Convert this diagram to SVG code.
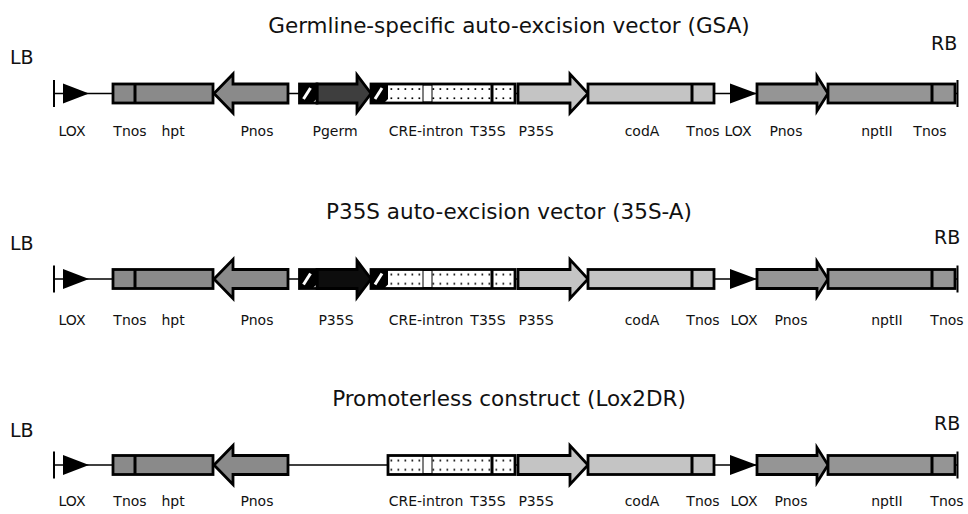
<svg xmlns="http://www.w3.org/2000/svg" xmlns:xlink="http://www.w3.org/1999/xlink" width="968" height="514" viewBox="0 0 968 514">
<style>
  text { font-family: "DejaVu Sans", Verdana, sans-serif; fill: #111; }
  .title { font-size: 21.5px; text-anchor: middle; }
  .end { font-size: 19px; }
  .lbl { font-size: 14px; text-anchor: middle; }
  .box { stroke: #000; stroke-width: 2.8; stroke-linejoin: miter; }
  .div { stroke: #000; stroke-width: 3; }
  .bb { stroke: #000; stroke-width: 1.4; fill: none; }
  .bar { stroke: #000; stroke-width: 2; }
  .g1 { fill: #8a8a8a; }
  .g2 { fill: #c4c4c4; }
  .g3 { fill: #959595; }
  .dk { fill: #3e3e3e; }
  .bk { fill: #0d0d0d; }
  .lox { fill: #000; }
</style>
<defs>
  <pattern id="dots" patternUnits="userSpaceOnUse" x="388" y="84" width="7" height="19">
    <rect width="7" height="19" fill="#fff"/>
    <rect x="2.5" y="4.2" width="1.7" height="1.7" fill="#000"/>
    <rect x="2.5" y="13.4" width="1.7" height="1.7" fill="#000"/>
  </pattern>
  <g id="hatch">
    <rect x="0" y="0" width="17" height="19" fill="#000"/>
    <line x1="4" y1="15" x2="11" y2="4" stroke="#fff" stroke-width="3"/>
    <polygon points="17,15 17,19 13,19" fill="#fff"/>
  </g>
</defs>
<rect width="968" height="514" fill="#fff"/>

<!-- Row 1: GSA -->
<g id="row-gsa">
  <text class="title" x="509" y="33">Germline-specific auto-excision vector (GSA)</text>
  <g id="connectors-gsa">
    <line class="bb" x1="54" y1="93.5" x2="957" y2="93.5"/>
  </g>
  <g id="gsa-LB"><line class="bar" x1="54" y1="80" x2="54" y2="107"/><text class="end" x="10" y="64">LB</text></g>
  <g id="gsa-LOX1"><polygon class="lox" points="63,83.5 63,103.5 89,93.5"/><text class="lbl" x="72" y="136">LOX</text></g>
  <g id="gsa-hpt"><rect class="box g1" x="113" y="84" width="100" height="19"/><line class="div" x1="135" y1="84" x2="135" y2="103"/><text class="lbl" x="130" y="136">Tnos</text><text class="lbl" x="173" y="136">hpt</text></g>
  <g id="gsa-Pnos1"><polygon class="box g1" points="214,93.5 233,74 233,84 288,84 288,103 233,103 233,113"/><text class="lbl" x="257" y="136">Pnos</text></g>
  <g id="gsa-Pgerm"><polygon class="box dk" points="317,84 357,84 357,75 371,93.5 357,112 357,103 317,103"/><use xlink:href="#hatch" x="299.5" y="84"/><rect x="299.5" y="84" width="17.5" height="19" fill="none" class="box"/><text class="lbl" x="335" y="136">Pgerm</text></g>
  <g id="gsa-CRE"><rect x="371" y="84" width="144" height="19" fill="url(#dots)"/><use xlink:href="#hatch" x="371" y="84"/><rect x="423" y="85" width="9" height="17" fill="#fff" stroke="#000" stroke-width="1"/><line class="div" x1="492" y1="84" x2="492" y2="103"/><rect class="box" x="371" y="84" width="144" height="19" fill="none"/><text class="lbl" x="426" y="136">CRE-intron</text><text class="lbl" x="488" y="136">T35S</text></g>
  <g id="gsa-P35S"><polygon class="box g2" points="518,84 570,84 570,74 588,93.5 570,113 570,103 518,103"/><text class="lbl" x="536" y="136">P35S</text></g>
  <g id="gsa-codA"><rect class="box g2" x="588" y="84" width="126" height="19"/><line class="div" x1="692" y1="84" x2="692" y2="103"/><text class="lbl" x="642" y="136">codA</text><text class="lbl" x="703" y="136">Tnos</text></g>
  <g id="gsa-LOX2"><polygon class="lox" points="730,83.5 730,103.5 757,93.5"/><text class="lbl" x="738" y="136">LOX</text></g>
  <g id="gsa-Pnos2"><polygon class="box g3" points="757,84 817,84 817,76 828,93.5 817,111 817,103 757,103"/><text class="lbl" x="786" y="136">Pnos</text></g>
  <g id="gsa-nptII"><rect class="box g3" x="828" y="84" width="127" height="19"/><line class="div" x1="932" y1="84" x2="932" y2="103"/><text class="lbl" x="877" y="136">nptII</text><text class="lbl" x="930" y="136">Tnos</text></g>
  <g id="gsa-RB"><line class="bar" x1="957.5" y1="80" x2="957.5" y2="107"/><text class="end" x="931" y="50">RB</text></g>
</g>

<!-- Row 2: 35S-A -->
<g id="row-35sa" transform="translate(0,185.5)">
  <text class="title" x="509" y="33.5">P35S auto-excision vector (35S-A)</text>
  <g id="connectors-35sa">
    <line class="bb" x1="54" y1="93.5" x2="957" y2="93.5"/>
  </g>
  <g id="a-LB"><line class="bar" x1="54" y1="80" x2="54" y2="107"/><text class="end" x="10" y="64.5">LB</text></g>
  <g id="a-LOX1"><polygon class="lox" points="63,83.5 63,103.5 89,93.5"/><text class="lbl" x="72" y="139">LOX</text></g>
  <g id="a-hpt"><rect class="box g1" x="113" y="84" width="100" height="19"/><line class="div" x1="135" y1="84" x2="135" y2="103"/><text class="lbl" x="130" y="139">Tnos</text><text class="lbl" x="173" y="139">hpt</text></g>
  <g id="a-Pnos1"><polygon class="box g1" points="214,93.5 233,74 233,84 288,84 288,103 233,103 233,113"/><text class="lbl" x="257" y="139">Pnos</text></g>
  <g id="a-P35Sprom"><polygon class="box bk" points="317,84 357,84 357,75 371,93.5 357,112 357,103 317,103"/><use xlink:href="#hatch" x="299.5" y="84"/><rect x="299.5" y="84" width="17.5" height="19" fill="none" class="box"/><text class="lbl" x="336" y="139">P35S</text></g>
  <g id="a-CRE"><rect x="371" y="84" width="144" height="19" fill="url(#dots)"/><use xlink:href="#hatch" x="371" y="84"/><rect x="423" y="85" width="9" height="17" fill="#fff" stroke="#000" stroke-width="1"/><line class="div" x1="492" y1="84" x2="492" y2="103"/><rect class="box" x="371" y="84" width="144" height="19" fill="none"/><text class="lbl" x="426" y="139">CRE-intron</text><text class="lbl" x="488" y="139">T35S</text></g>
  <g id="a-P35S"><polygon class="box g2" points="518,84 570,84 570,74 588,93.5 570,113 570,103 518,103"/><text class="lbl" x="536" y="139">P35S</text></g>
  <g id="a-codA"><rect class="box g2" x="588" y="84" width="126" height="19"/><line class="div" x1="692" y1="84" x2="692" y2="103"/><text class="lbl" x="642" y="139">codA</text><text class="lbl" x="703" y="139">Tnos</text></g>
  <g id="a-LOX2"><polygon class="lox" points="730,83.5 730,103.5 757,93.5"/><text class="lbl" x="744" y="139">LOX</text></g>
  <g id="a-Pnos2"><polygon class="box g3" points="757,84 817,84 817,76 828,93.5 817,111 817,103 757,103"/><text class="lbl" x="791" y="139">Pnos</text></g>
  <g id="a-nptII"><rect class="box g3" x="828" y="84" width="127" height="19"/><line class="div" x1="932" y1="84" x2="932" y2="103"/><text class="lbl" x="887" y="139">nptII</text><text class="lbl" x="947" y="139">Tnos</text></g>
  <g id="a-RB"><line class="bar" x1="957.5" y1="80" x2="957.5" y2="107"/><text class="end" x="934" y="58">RB</text></g>
</g>

<!-- Row 3: Lox2DR -->
<g id="row-lox2dr" transform="translate(0,371.5)">
  <text class="title" x="509" y="34">Promoterless construct (Lox2DR)</text>
  <g id="connectors-lox2dr">
    <line class="bb" x1="54" y1="93.5" x2="957" y2="93.5"/>
  </g>
  <g id="p-LB"><line class="bar" x1="54" y1="80" x2="54" y2="107"/><text class="end" x="10" y="65">LB</text></g>
  <g id="p-LOX1"><polygon class="lox" points="63,83.5 63,103.5 89,93.5"/><text class="lbl" x="72" y="134">LOX</text></g>
  <g id="p-hpt"><rect class="box g1" x="113" y="84" width="100" height="19"/><line class="div" x1="135" y1="84" x2="135" y2="103"/><text class="lbl" x="130" y="134">Tnos</text><text class="lbl" x="173" y="134">hpt</text></g>
  <g id="p-Pnos1"><polygon class="box g1" points="214,93.5 233,74 233,84 288,84 288,103 233,103 233,113"/><text class="lbl" x="257" y="134">Pnos</text></g>
  <g id="p-CRE"><rect x="388" y="84" width="127" height="19" fill="url(#dots)"/><rect x="423" y="85" width="9" height="17" fill="#fff" stroke="#000" stroke-width="1"/><line class="div" x1="492" y1="84" x2="492" y2="103"/><rect class="box" x="388" y="84" width="127" height="19" fill="none"/><text class="lbl" x="426" y="134">CRE-intron</text><text class="lbl" x="488" y="134">T35S</text></g>
  <g id="p-P35S"><polygon class="box g2" points="518,84 570,84 570,74 588,93.5 570,113 570,103 518,103"/><text class="lbl" x="536" y="134">P35S</text></g>
  <g id="p-codA"><rect class="box g2" x="588" y="84" width="126" height="19"/><line class="div" x1="692" y1="84" x2="692" y2="103"/><text class="lbl" x="642" y="134">codA</text><text class="lbl" x="703" y="134">Tnos</text></g>
  <g id="p-LOX2"><polygon class="lox" points="730,83.5 730,103.5 757,93.5"/><text class="lbl" x="744" y="134">LOX</text></g>
  <g id="p-Pnos2"><polygon class="box g3" points="757,84 817,84 817,76 828,93.5 817,111 817,103 757,103"/><text class="lbl" x="791" y="134">Pnos</text></g>
  <g id="p-nptII"><rect class="box g3" x="828" y="84" width="127" height="19"/><line class="div" x1="932" y1="84" x2="932" y2="103"/><text class="lbl" x="887" y="134">nptII</text><text class="lbl" x="947" y="134">Tnos</text></g>
  <g id="p-RB"><line class="bar" x1="957.5" y1="80" x2="957.5" y2="107"/><text class="end" x="934" y="58">RB</text></g>
</g>
</svg>
